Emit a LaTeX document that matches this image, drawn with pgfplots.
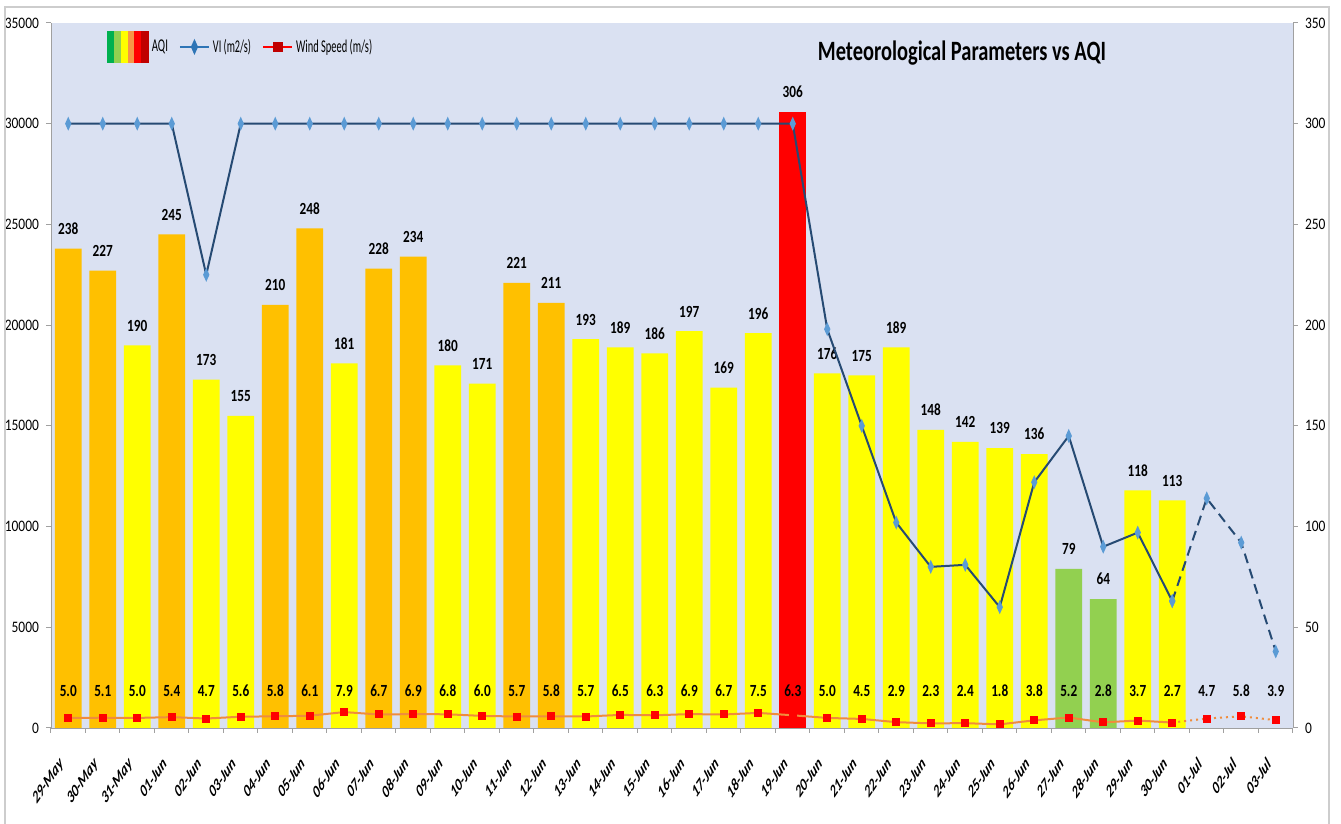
\documentclass[border=0pt]{standalone}
\usepackage{graphicx}
\usepackage{pgfplots}
\pgfplotsset{compat=1.18}
\usepackage{fontspec}
\setmainfont{Carlito}
\usetikzlibrary{calc}

\definecolor{bgblue}{RGB}{218,225,242}
\definecolor{aqiorange}{RGB}{255,192,0}
\definecolor{aqiyellow}{RGB}{255,255,0}
\definecolor{aqired}{RGB}{255,0,0}
\definecolor{aqigreen}{RGB}{146,208,80}
\definecolor{vidark}{RGB}{38,74,115}
\definecolor{vilight}{RGB}{91,155,213}
\definecolor{vilegend}{RGB}{46,117,182}
\definecolor{windor}{RGB}{240,140,60}
\definecolor{axgray}{RGB}{160,160,160}
\definecolor{framegray}{RGB}{205,205,205}
\definecolor{aqia}{RGB}{0,176,80}
\definecolor{aqib}{RGB}{146,208,80}
\definecolor{aqic}{RGB}{255,255,0}
\definecolor{aqid}{RGB}{247,150,70}
\definecolor{aqie}{RGB}{255,0,0}
\definecolor{aqif}{RGB}{192,0,0}

\newcommand{\nar}[2][0.78]{\scalebox{#1}[1]{#2}}

\pgfplotsset{
  shortline/.style={legend image code/.code={\draw[mark repeat=2,mark phase=2,##1] plot coordinates {(0pt,0pt)(7.25pt,0pt)(14.5pt,0pt)};}},
  aqileg/.style={legend image code/.code={
      \fill[aqia] (0pt,-7.75pt) rectangle (3.42pt,7.75pt);
      \fill[aqib] (3.42pt,-7.75pt) rectangle (6.84pt,7.75pt);
      \fill[aqic] (6.84pt,-7.75pt) rectangle (10.26pt,7.75pt);
      \fill[aqid] (10.26pt,-7.75pt) rectangle (13.68pt,7.75pt);
      \fill[aqie] (13.68pt,-7.75pt) rectangle (17.1pt,7.75pt);
      \fill[aqif] (17.1pt,-7.75pt) rectangle (20.5pt,7.75pt);
  }},
  common/.style={
    scale only axis, width=621pt, height=352.5pt,
    xmin=-0.5, xmax=35.5,
    axis line style={axgray},
    tick style={axgray, line width=0.5pt},
    tick align=outside, major tick length=2.5pt,
    scaled y ticks=false,
    /pgf/number format/1000 sep={},
    /pgf/number format/assume math mode=true,
    yticklabel style={font=\fontsize{8}{10}\selectfont, black},
    yticklabel={\nar[0.84]{\pgfmathprintnumber{\tick}}},
  },
  barlab/.style={
    nodes near coords={\nar{\pgfmathprintnumber{\pgfplotspointmeta}}},
    every node near coord/.append style={font=\fontsize{8.5}{9}\selectfont\bfseries, black, anchor=south, yshift=3.5pt},
  },
}

\begin{document}
\begin{tikzpicture}
% ---------- AQI (right axis) ----------
\begin{axis}[common,
  axis y line*=right, axis x line*=bottom,
  ymin=0, ymax=350, ytick={0,50,...,350},
  xtick={-0.5,0.5,...,35.5}, xticklabels={},
  axis background/.style={fill=bgblue},
]
\coordinate (SW) at (rel axis cs:0,0);
\addplot[ybar, bar width=0.78, bar shift=0pt, fill=aqiorange, draw=none, barlab] coordinates {
(0,238) (1,227) (3,245) (6,210) (7,248) (9,228) (10,234) (13,221) (14,211)};
\addplot[ybar, bar width=0.78, bar shift=0pt, fill=aqiyellow, draw=none, barlab] coordinates {
(2,190) (4,173) (5,155) (8,181) (11,180) (12,171) (15,193) (16,189) (17,186) (18,197) (19,169) (20,196)
(22,176) (23,175) (24,189) (25,148) (26,142) (27,139) (28,136) (31,118) (32,113)};
\addplot[ybar, bar width=0.78, bar shift=0pt, fill=aqired, draw=none, barlab] coordinates {(21,306)};
\addplot[ybar, bar width=0.78, bar shift=0pt, fill=aqigreen, draw=none, barlab] coordinates {(29,79) (30,64)};
% wind speed
\addplot[windor, line width=1pt, mark=square*, mark size=1.5pt, mark options={fill=red, draw=red, solid}] coordinates {
(0,5.0) (1,5.1) (2,5.0) (3,5.4) (4,4.7) (5,5.6) (6,5.8) (7,6.1) (8,7.9) (9,6.7)
(10,6.9) (11,6.8) (12,6.0) (13,5.7) (14,5.8) (15,5.7) (16,6.5) (17,6.3) (18,6.9) (19,6.7)
(20,7.5) (21,6.3) (22,5.0) (23,4.5) (24,2.9) (25,2.3) (26,2.4) (27,1.8) (28,3.8) (29,5.2)
(30,2.8) (31,3.7) (32,2.7)};
\addplot[windor, line width=1pt, dotted, mark=square*, mark size=1.5pt, mark options={fill=red, draw=red, solid}] coordinates {
(32,2.7) (33,4.7) (34,5.8) (35,3.9)};
% wind labels
\addplot[draw=none, mark=none, point meta=explicit symbolic,
  nodes near coords={\nar{\pgfplotspointmeta}},
  every node near coord/.append style={anchor=center, font=\fontsize{8.5}{9}\selectfont\bfseries, black}]
  table[x=x, y=y, meta=lab] {
x y lab
0 18.4 5.0
1 18.4 5.1
2 18.4 5.0
3 18.4 5.4
4 18.4 4.7
5 18.4 5.6
6 18.4 5.8
7 18.4 6.1
8 18.4 7.9
9 18.4 6.7
10 18.4 6.9
11 18.4 6.8
12 18.4 6.0
13 18.4 5.7
14 18.4 5.8
15 18.4 5.7
16 18.4 6.5
17 18.4 6.3
18 18.4 6.9
19 18.4 6.7
20 18.4 7.5
21 18.4 6.3
22 18.4 5.0
23 18.4 4.5
24 18.4 2.9
25 18.4 2.3
26 18.4 2.4
27 18.4 1.8
28 18.4 3.8
29 18.4 5.2
30 18.4 2.8
31 18.4 3.7
32 18.4 2.7
33 18.4 4.7
34 18.4 5.8
35 18.4 3.9
};
\end{axis}
% ---------- VI (left axis) ----------
\begin{axis}[common,
  axis y line*=left, axis x line*=bottom,
  x axis line style={draw=none},
  ymin=0, ymax=35000, ytick={0,5000,...,35000},
  xtick={0,...,35}, xtick style={draw=none},
  xticklabels={29-May,30-May,31-May,01-Jun,02-Jun,03-Jun,04-Jun,05-Jun,06-Jun,07-Jun,08-Jun,09-Jun,10-Jun,11-Jun,12-Jun,13-Jun,14-Jun,15-Jun,16-Jun,17-Jun,18-Jun,19-Jun,20-Jun,21-Jun,22-Jun,23-Jun,24-Jun,25-Jun,26-Jun,27-Jun,28-Jun,29-Jun,30-Jun,01-Jul,02-Jul,03-Jul},
  xticklabel style={font=\fontsize{8.9}{10}\selectfont\bfseries\itshape, black, inner sep=0pt,
    xshift=-5pt, yshift=-11.5pt, xscale=0.67, rotate=45, anchor=north east},
  legend style={at={(0.0432,0.992)}, anchor=north west, draw=none, fill=none,
    font=\fontsize{9}{10}\selectfont, inner sep=1pt, nodes={inner xsep=1.5pt},
    /tikz/every even column/.append style={column sep=4pt}},
  legend columns=-1,
]
\addlegendimage{aqileg}
\addlegendentry{\nar[0.6]{AQI}}
\addlegendimage{shortline, color=vilegend, line width=1pt, mark=diamond*, mark size=2.8pt, mark options={fill=vilegend, xscale=0.6}}
\addlegendentry{\nar[0.57]{VI (m2/s)}}
\addlegendimage{shortline, color=red, line width=1pt, mark=square*, mark size=2pt, mark options={fill=aqif, draw=aqif}}
\addlegendentry{\nar[0.58]{Wind Speed (m/s)}}

\addplot[forget plot, vidark, line width=1pt, mark=diamond*, mark size=2.3pt, mark options={fill=vilight, draw=vilight, xscale=0.6}] coordinates {
(0,30000) (1,30000) (2,30000) (3,30000) (4,22500) (5,30000) (6,30000) (7,30000) (8,30000) (9,30000)
(10,30000) (11,30000) (12,30000) (13,30000) (14,30000) (15,30000) (16,30000) (17,30000) (18,30000) (19,30000)
(20,30000) (21,30000) (22,19800) (23,15000) (24,10200) (25,8000) (26,8100) (27,6000) (28,12200) (29,14500)
(30,9000) (31,9700) (32,6300)};
\addplot[forget plot, vidark, line width=1pt, dash pattern=on 5pt off 3pt, mark=diamond*, mark size=2.3pt, mark options={solid, fill=vilight, draw=vilight, xscale=0.6}] coordinates {
(32,6300) (33,11400) (34,9200) (35,3800)};
\node at (rel axis cs:0.7335,0.957) {\nar[0.73]{\fontsize{14}{16}\selectfont\bfseries Meteorological Parameters vs AQI}};
\end{axis}
\draw[framegray, line width=0.6pt] ($(SW)+(-23pt,-48pt)$) -- ($(SW)+(-23pt,360.5pt)$) -- ($(SW)+(639pt,360.5pt)$) -- ($(SW)+(639pt,-48pt)$);
\pgfresetboundingbox
\path[use as bounding box] ($(SW)+(-25.5pt,-48pt)$) rectangle ($(SW)+(645pt,364pt)$);
\end{tikzpicture}
\end{document}
